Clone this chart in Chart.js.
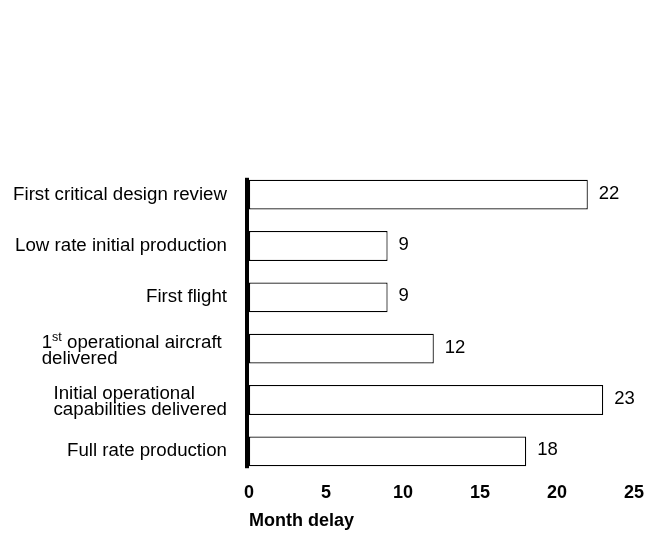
<!DOCTYPE html>
<html>
<head>
<meta charset="utf-8">
<script src="https://cdn.jsdelivr.net/npm/chart.js@4/dist/chart.umd.min.js"></script>
<style>
  body { margin: 0; background: #fff; }
  #wrap { width: 666px; height: 533px; }
</style>
</head>
<body>
<div id="wrap"><canvas id="delayChart" width="666" height="533"></canvas></div>
<script>
// milestone names, one entry per bar (lines of the label; ^xx = superscript)
var milestones = [
    ['First critical design review'],
    ['Low rate initial production'],
    ['First flight'],
    ['1^st operational aircraft ', 'delivered'],
    ['Initial operational', 'capabilities delivered'],
    ['Full rate production']
];
var monthDelay = [22, 9, 9, 12, 23, 18];
var xTicks = [0, 5, 10, 15, 20, 25];
var xTitle = 'Month delay';

var FONT = '"Liberation Sans", Arial, Helvetica, sans-serif';

// draws the category labels as left-aligned blocks with superscripts
var labelPlugin = {
    id: 'milestoneLabels',
    afterDraw: function(chart) {
        var ctx = chart.ctx;
        var yScale = chart.scales.y;
        var rightEdge = 227;
        var lineH = 16.5;
        ctx.save();
        ctx.fillStyle = '#000';
        ctx.textBaseline = 'middle';
        ctx.textAlign = 'left';
        milestones.forEach(function(lines, i) {
            var cy = yScale.getPixelForValue(i);
            if (lines.length > 1) cy += 2;
            var parsed = lines.map(function(l) { return l.split(/\^(\w+)/); });
            var widths = parsed.map(function(parts) {
                var w = 0;
                parts.forEach(function(p, k) {
                    ctx.font = (k % 2 ? '12.5px ' : '18.7px ') + FONT;
                    w += ctx.measureText(p).width;
                });
                return w;
            });
            var left = rightEdge - Math.max.apply(null, widths);
            parsed.forEach(function(parts, j) {
                var y = cy - (lines.length - 1) * lineH / 2 + j * lineH;
                var x = left;
                parts.forEach(function(p, k) {
                    ctx.font = (k % 2 ? '12.5px ' : '18.7px ') + FONT;
                    ctx.fillText(p, x, k % 2 ? y - 5 : y);
                    x += ctx.measureText(p).width;
                });
            });
        });
        ctx.restore();
    },
    afterDatasetsDraw: function(chart) {
        var ctx = chart.ctx;
        var meta = chart.getDatasetMeta(0);
        var x0 = chart.scales.x.getPixelForValue(0);
        var first = meta.data[0], last = meta.data[meta.data.length - 1];
        var top = first.y - first.height / 2 - 2;
        var bottom = last.y + last.height / 2 + 2;
        ctx.save();
        ctx.fillStyle = '#000';
        ctx.fillRect(x0 - 4, top, 4, bottom - top);
        // value labels
        ctx.font = '18.5px ' + FONT;
        ctx.textBaseline = 'middle';
        ctx.textAlign = 'left';
        meta.data.forEach(function(bar, i) {
            ctx.fillText(String(monthDelay[i]), bar.x + 11, bar.y - 1);
        });
        ctx.restore();
    }
};

var ctx = document.getElementById('delayChart');
var delayChart = new Chart(ctx, {
    type: 'bar',
    data: {
        labels: milestones.map(function(l) { return l.join(' ').replace('^', ''); }),
        datasets: [{
            data: monthDelay,
            backgroundColor: '#fff',
            borderColor: '#000',
            borderWidth: 1.2,
            borderSkipped: false,
            barPercentage: 1,
            categoryPercentage: 0.58
        }]
    },
    options: {
        indexAxis: 'y',
        responsive: false,
        animation: false,
        layout: { padding: { top: 169, right: 32, left: 0, bottom: 0 } },
        plugins: { legend: { display: false }, tooltip: { enabled: false } },
        scales: {
            y: {
                ticks: { display: false },
                grid: { display: false, drawTicks: false },
                border: { display: false },
                afterFit: function(scale) { scale.width = 249; }
            },
            x: {
                min: 0,
                max: 25,
                afterBuildTicks: function(scale) {
                    scale.ticks = xTicks.map(function(v) { return { value: v }; });
                },
                ticks: {
                    color: '#000',
                    padding: 5,
                    maxRotation: 0,
                    font: { family: FONT, size: 18, weight: 'bold' }
                },
                grid: { display: false, drawTicks: false },
                border: { display: false },
                title: {
                    display: true,
                    text: xTitle,
                    align: 'start',
                    color: '#000',
                    padding: { top: 0, bottom: 1 },
                    font: { family: FONT, size: 18, weight: 'bold' }
                },
                afterFit: function(scale) { scale.height = 56; }
            }
        }
    },
    plugins: [labelPlugin]
});
</script>
</body>
</html>
